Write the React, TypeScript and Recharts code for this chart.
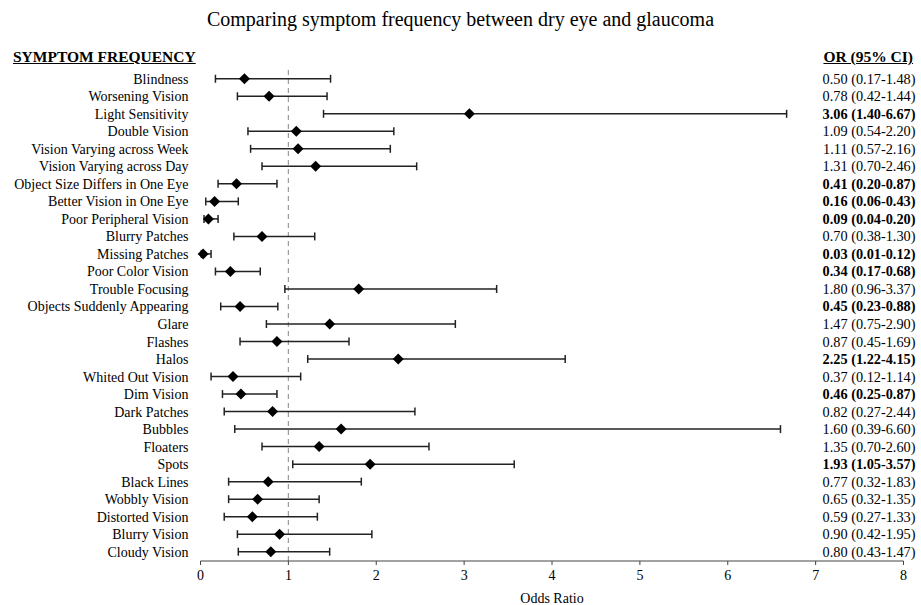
import { ScatterChart, Scatter, XAxis, YAxis, ErrorBar, ReferenceLine } from "recharts";

const symptoms = [
  "Blindness", "Worsening Vision", "Light Sensitivity", "Double Vision",
  "Vision Varying across Week", "Vision Varying across Day", "Object Size Differs in One Eye",
  "Better Vision in One Eye", "Poor Peripheral Vision", "Blurry Patches", "Missing Patches",
  "Poor Color Vision", "Trouble Focusing", "Objects Suddenly Appearing", "Glare", "Flashes",
  "Halos", "Whited Out Vision", "Dim Vision", "Dark Patches", "Bubbles", "Floaters", "Spots",
  "Black Lines", "Wobbly Vision", "Distorted Vision", "Blurry Vision", "Cloudy Vision",
];
const oddsRatios = [0.5, 0.78, 3.06, 1.09, 1.11, 1.31, 0.41, 0.16, 0.09, 0.7, 0.03, 0.34, 1.8, 0.45, 1.47, 0.87, 2.25, 0.37, 0.46, 0.82, 1.6, 1.35, 1.93, 0.77, 0.65, 0.59, 0.9, 0.8];
const ciLow = [0.17, 0.42, 1.4, 0.54, 0.57, 0.7, 0.2, 0.06, 0.04, 0.38, 0.01, 0.17, 0.96, 0.23, 0.75, 0.45, 1.22, 0.12, 0.25, 0.27, 0.39, 0.7, 1.05, 0.32, 0.32, 0.27, 0.42, 0.43];
const ciHigh = [1.48, 1.44, 6.67, 2.2, 2.16, 2.46, 0.87, 0.43, 0.2, 1.3, 0.12, 0.68, 3.37, 0.88, 2.9, 1.69, 4.15, 1.14, 0.87, 2.44, 6.6, 2.6, 3.57, 1.83, 1.35, 1.33, 1.95, 1.47];
// rows whose CI excludes 1 are printed in bold
const significant = [2, 6, 7, 8, 10, 11, 13, 16, 18, 22];
const xTicks = [0, 1, 2, 3, 4, 5, 6, 7, 8];

const rows = symptoms.map((name, i) => ({
  row: i,
  name,
  or: oddsRatios[i],
  err: [+(oddsRatios[i] - ciLow[i]).toFixed(2), +(ciHigh[i] - oddsRatios[i]).toFixed(2)],
  text: `${oddsRatios[i].toFixed(2)} (${ciLow[i].toFixed(2)}-${ciHigh[i].toFixed(2)})`,
  bold: significant.includes(i),
}));

const FONT = "'Liberation Serif', 'Times New Roman', serif";

function Diamond(props: any) {
  const { cx, cy } = props;
  const r = 5.5;
  return <polygon points={`${cx},${cy - r} ${cx + r},${cy} ${cx},${cy + r} ${cx - r},${cy}`} fill="#000" />;
}

function RowTick(props: any) {
  const { x, y, payload } = props;
  const r = rows[payload.value];
  if (!r) return null;
  return (
    <g>
      <text x={x} y={y} dy={5} textAnchor="end" fontSize={14} fontFamily={FONT} fill="#000">
        {r.name}
      </text>
      <text x={x + 727} y={y} dy={5} textAnchor="end" fontSize={14.3} fontFamily={FONT} fill="#000" fontWeight={r.bold ? "bold" : "normal"}>
        {r.text}
      </text>
    </g>
  );
}

export default function App() {
  return (
    <div style={{ position: "absolute", left: 0, top: 0, width: 921, height: 605, background: "#fff", fontFamily: FONT, color: "#000" }}>
      <div style={{ position: "absolute", top: 8, left: 0, width: 921, textAlign: "center", fontSize: 20 }}>
        Comparing symptom frequency between dry eye and glaucoma
      </div>
      <div style={{ position: "absolute", top: 48, left: 13, fontSize: 15.5, fontWeight: "bold", textDecoration: "underline" }}>
        SYMPTOM FREQUENCY
      </div>
      <div style={{ position: "absolute", top: 48, right: 8, fontSize: 15.5, fontWeight: "bold", textDecoration: "underline" }}>
        OR (95% CI)
      </div>
      <ScatterChart width={921} height={605} margin={{ top: 70, right: 17.5, bottom: 0, left: 0 }}>
        <XAxis
          type="number"
          dataKey="or"
          domain={[0, 8]}
          ticks={xTicks}
          height={44}
          tickSize={4}
          tickMargin={5}
          stroke="#444"
          tick={{ fontSize: 14, fontFamily: FONT, fill: "#000" }}
          label={{ value: "Odds Ratio", position: "insideBottom", offset: 2, fontSize: 14, fontFamily: FONT, fill: "#000" }}
        />
        <YAxis
          type="number"
          dataKey="row"
          reversed
          domain={[-0.5, 27.53]}
          ticks={rows.map((r) => r.row)}
          interval={0}
          width={200.5}
          axisLine={false}
          tickLine={false}
          tickSize={0}
          tickMargin={12}
          tick={<RowTick />}
        />
        <ReferenceLine x={1} stroke="#999" strokeDasharray="5 4" strokeWidth={1.2} />
        <Scatter data={rows} shape={<Diamond />} isAnimationActive={false}>
          <ErrorBar dataKey="err" direction="x" width={4} stroke="#222" strokeWidth={1.5} />
        </Scatter>
      </ScatterChart>
    </div>
  );
}
